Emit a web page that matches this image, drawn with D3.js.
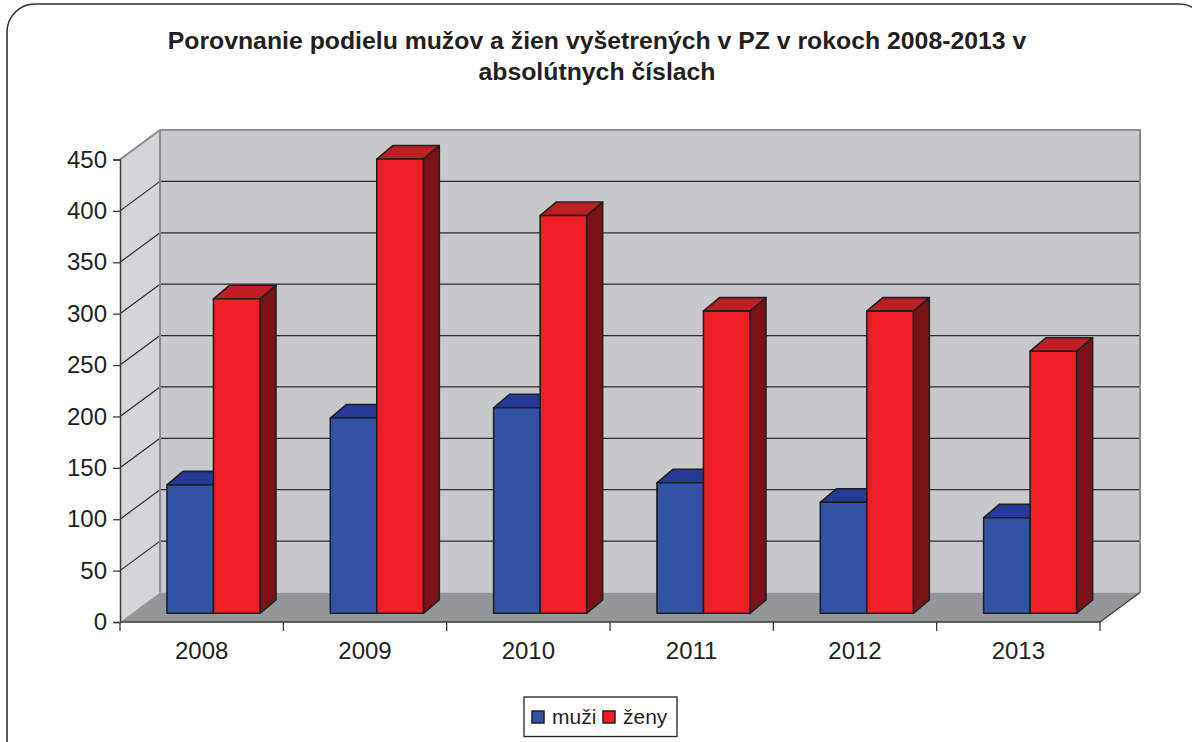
<!DOCTYPE html>
<html>
<head>
<meta charset="utf-8">
<script src="https://cdn.jsdelivr.net/npm/d3@7"></script>
<style>
  html, body { margin: 0; padding: 0; background: #ffffff; }
  svg { display: block; font-family: "Liberation Sans", Arial, sans-serif; }
</style>
</head>
<body>
<svg id="chart" width="1192" height="742"></svg>
<script>
// Data
const years = ["2008", "2009", "2010", "2011", "2012", "2013"];
const series = ["muži", "ženy"];
const muzi = [125, 190, 200, 127, 108, 93];
const zeny = [306, 442, 387, 294, 294, 255];
const yTicks = [0, 50, 100, 150, 200, 250, 300, 350, 400, 450];
const titleLines = ["Porovnanie podielu mužov a žien vyšetrených v PZ v rokoch 2008-2013 v", "absolútnych číslach"];

const values = [muzi, zeny];
const colors = {
  front: ["#3252a4", "#ed1f25"],
  top: ["#263b96", "#be1e24"],
  side: ["#1b2a6b", "#7b1217"]
};

const svg = d3.select("#chart");

// Outer rounded frame
svg.append("rect")
  .attr("x", 7).attr("y", 4)
  .attr("width", 1200).attr("height", 780)
  .attr("rx", 28).attr("ry", 28)
  .attr("fill", "#fff").attr("stroke", "#333").attr("stroke-width", 1.6);

// Title
svg.append("g").selectAll("text").data(titleLines).join("text")
  .attr("x", 597).attr("y", (d, i) => 49 + i * 31)
  .attr("text-anchor", "middle")
  .attr("font-weight", "bold").attr("font-size", 24.8)
  .attr("fill", "#231f20")
  .text(d => d);

// Plot geometry (front plane) and depth projection
const plotLeft = 120, plotRight = 1100, plotBottom = 622, plotTop = 159.5;
const depthX = 40, depthY = 29.5;          // wall depth offset
const x = d3.scaleBand().domain(years).range([plotLeft, plotRight]);
const y = d3.scaleLinear().domain([0, 450]).range([plotBottom, plotTop]);

// Walls
const wallFill = "#c7c8ca", sideFill = "#d4d5d7", floorFill = "#959698", edge = "#8b8c8e";
svg.append("polygon")
  .attr("points", [[plotLeft + depthX, y(450) - depthY], [plotRight + depthX, y(450) - depthY], [plotRight + depthX, y(0) - depthY], [plotLeft + depthX, y(0) - depthY]].join(" "))
  .attr("fill", wallFill);
svg.append("polygon")
  .attr("points", [[plotLeft, y(450)], [plotLeft + depthX, y(450) - depthY], [plotLeft + depthX, y(0) - depthY], [plotLeft, y(0)]].join(" "))
  .attr("fill", sideFill);
svg.append("polygon")
  .attr("points", [[plotLeft, y(0)], [plotLeft + depthX, y(0) - depthY], [plotRight + depthX, y(0) - depthY], [plotRight, y(0)]].join(" "))
  .attr("fill", floorFill);

// Gridlines on back wall and side wall
const grid = svg.append("g");
yTicks.filter(t => t > 0 && t < 450).forEach(t => {
  grid.append("line")
    .attr("x1", plotLeft + depthX).attr("x2", plotRight + depthX)
    .attr("y1", y(t) - depthY).attr("y2", y(t) - depthY)
    .attr("stroke", "#2b2b2b").attr("stroke-width", 1.2);
  grid.append("line")
    .attr("x1", plotLeft).attr("x2", plotLeft + depthX)
    .attr("y1", y(t)).attr("y2", y(t) - depthY)
    .attr("stroke", "#2b2b2b").attr("stroke-width", 1.2);
});

// Wall edges
svg.append("polyline")
  .attr("points", [[plotLeft, y(450)], [plotLeft + depthX, y(450) - depthY], [plotRight + depthX, y(450) - depthY], [plotRight + depthX, y(0) - depthY]].join(" "))
  .attr("fill", "none").attr("stroke", edge).attr("stroke-width", 2);
svg.append("line")
  .attr("x1", plotLeft + depthX).attr("x2", plotLeft + depthX)
  .attr("y1", y(450) - depthY).attr("y2", y(0) - depthY)
  .attr("stroke", edge).attr("stroke-width", 2);
svg.append("line")
  .attr("x1", plotRight).attr("x2", plotRight + depthX)
  .attr("y1", y(0)).attr("y2", y(0) - depthY)
  .attr("stroke", "#3a3a3a").attr("stroke-width", 1.2);

// Bars: front face sits part-way into the floor depth
const barDz = 0.295;
const offX = depthX * barDz, offY = depthY * barDz;
const barDX = 16, barDY = 13.5;
const x1 = d3.scaleBand().domain(series).range([0, x.bandwidth()]).paddingOuter(0.756);

const bars = svg.append("g");
years.forEach((yr, i) => {
  series.forEach((s, j) => {
    const v = values[j][i];
    const x0 = x(yr) + offX + x1(s);
    const w = x1.bandwidth();
    const yt = y(v) - offY;
    const yb = y(0) - offY;
    const g = bars.append("g")
      .attr("stroke", "#231f20").attr("stroke-width", 1.6).attr("stroke-linejoin", "round");
    g.append("polygon")
      .attr("points", [[x0 + w, yt], [x0 + w + barDX, yt - barDY], [x0 + w + barDX, yb - barDY], [x0 + w, yb]].join(" "))
      .attr("fill", colors.side[j]);
    g.append("polygon")
      .attr("points", [[x0, yt], [x0 + barDX, yt - barDY], [x0 + w + barDX, yt - barDY], [x0 + w, yt]].join(" "))
      .attr("fill", colors.top[j]);
    g.append("rect")
      .attr("x", x0).attr("y", yt).attr("width", w).attr("height", yb - yt)
      .attr("fill", colors.front[j]);
  });
});

// Y axis
const yAxis = svg.append("g").attr("transform", `translate(${plotLeft},0)`)
  .call(d3.axisLeft(y).tickValues(yTicks).tickSize(7).tickPadding(6));
yAxis.select(".domain").attr("stroke", "#3a3a3a").attr("stroke-width", 1.5);
yAxis.selectAll(".tick line").attr("stroke", "#3a3a3a").attr("stroke-width", 1.3);
yAxis.selectAll(".tick text").attr("font-size", 24).attr("fill", "#231f20")
  .attr("font-family", "Liberation Sans, Arial, sans-serif");

// X axis with ticks at category boundaries
const xAxis = svg.append("g").attr("transform", `translate(0,${plotBottom})`);
xAxis.append("line").attr("x1", plotLeft).attr("x2", plotRight).attr("y1", 0).attr("y2", 0)
  .attr("stroke", "#3a3a3a").attr("stroke-width", 1.5);
const bounds = years.map(d => x(d)).concat([plotRight]);
xAxis.selectAll("line.tick").data(bounds).join("line").attr("class", "tick")
  .attr("x1", d => d).attr("x2", d => d).attr("y1", 0).attr("y2", 9)
  .attr("stroke", "#3a3a3a").attr("stroke-width", 1.3);
xAxis.selectAll("text").data(years).join("text")
  .attr("x", d => x(d) + x.bandwidth() / 2)
  .attr("y", 37)
  .attr("text-anchor", "middle")
  .attr("font-size", 24).attr("fill", "#231f20")
  .text(d => d);

// Legend
const legend = svg.append("g");
legend.append("rect").attr("x", 524).attr("y", 697).attr("width", 153).attr("height", 39.5)
  .attr("fill", "#fff").attr("stroke", "#231f20").attr("stroke-width", 1.3);
const legX = [532, 603];
series.forEach((s, j) => {
  legend.append("rect").attr("x", legX[j]).attr("y", 711).attr("width", 12).attr("height", 12)
    .attr("fill", colors.front[j]).attr("stroke", "#231f20").attr("stroke-width", 1.5);
  legend.append("text").attr("x", legX[j] + 20).attr("y", 723.5)
    .attr("font-size", 21).attr("fill", "#231f20").text(s);
});
</script>
</body>
</html>
